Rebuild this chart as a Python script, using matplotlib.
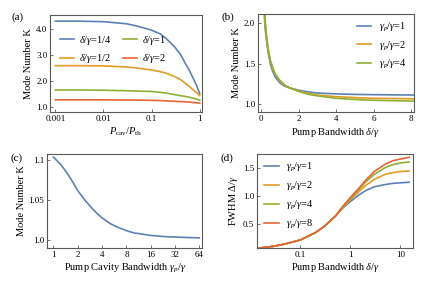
import numpy as np
import matplotlib
matplotlib.use("Agg")
import matplotlib.pyplot as plt
from matplotlib.ticker import FixedLocator, FixedFormatter, NullLocator

plt.rcParams['font.family'] = ['Liberation Serif', 'DejaVu Serif']
plt.rcParams['mathtext.fontset'] = 'custom'
plt.rcParams['mathtext.rm'] = 'Liberation Serif'
plt.rcParams['mathtext.it'] = 'Liberation Serif:italic'
plt.rcParams['font.size'] = 6.5

colors = ['#5E81B5', '#E19C24', '#8FB032', '#EB6235']

# (a) mode number vs pump power
a_x = [0.001, 0.003, 0.01, 0.03, 0.05, 0.1, 0.15, 0.2, 0.3, 0.4, 0.5, 0.6, 0.7, 0.85, 1.0]
a_labels = ['1/4', '1/2', '1', '2']
a_k = [
    [4.31, 4.31, 4.29, 4.21, 4.12, 3.96, 3.82, 3.64, 3.32, 3.02, 2.68, 2.43, 2.17, 1.85, 1.51],
    [2.59, 2.59, 2.58, 2.54, 2.50, 2.42, 2.36, 2.30, 2.17, 2.05, 1.91, 1.80, 1.68, 1.56, 1.43],
    [1.65, 1.65, 1.64, 1.62, 1.61, 1.59, 1.56, 1.53, 1.47, 1.43, 1.40, 1.37, 1.34, 1.30, 1.26],
    [1.27, 1.27, 1.27, 1.26, 1.26, 1.25, 1.24, 1.23, 1.21, 1.20, 1.19, 1.18, 1.17, 1.155, 1.14],
]

# (b) mode number vs pump bandwidth
b_x = [0.15, 0.2, 0.3, 0.4, 0.5, 0.6, 0.75, 1.0, 1.25, 1.5, 2.0, 2.5, 3.0, 4.0, 5.0, 6.0, 8.2]
b_labels = ['1', '2', '4']
b_k = [
    [2.15, 1.95, 1.74, 1.59, 1.48, 1.41, 1.33, 1.26, 1.22, 1.20, 1.17, 1.15, 1.135, 1.125, 1.118, 1.115, 1.11],
    [2.20, 2.00, 1.77, 1.62, 1.51, 1.44, 1.36, 1.28, 1.23, 1.20, 1.16, 1.13, 1.11, 1.09, 1.078, 1.07, 1.063],
    [2.25, 2.05, 1.80, 1.64, 1.53, 1.46, 1.37, 1.29, 1.235, 1.20, 1.155, 1.12, 1.10, 1.07, 1.055, 1.045, 1.035],
]

# (c) mode number vs pump cavity bandwidth
c_x = [1, 1.25, 1.5, 1.75, 2, 2.5, 3, 3.5, 4, 5, 6, 8, 10, 12, 16, 24, 32, 48, 64]
c_k = [1.104, 1.094, 1.083, 1.072, 1.062, 1.049, 1.040, 1.033, 1.028, 1.021, 1.017,
       1.012, 1.009, 1.008, 1.006, 1.0045, 1.004, 1.0033, 1.003]

# (d) FWHM vs pump bandwidth
d_x = [0.0142, 0.02, 0.03, 0.05, 0.1, 0.2, 0.3, 0.5, 0.7, 1.0, 1.5, 2.0, 3.0, 5.0, 7.0, 10.0, 15.0]
d_labels = ['1', '2', '4', '8']
d_common = [0.075, 0.09, 0.11, 0.15, 0.22, 0.35, 0.46, 0.64]
d_fwhm = [
    d_common + [0.78, 0.90, 1.02, 1.09, 1.16, 1.20, 1.22, 1.23, 1.24],
    d_common + [0.79, 0.93, 1.08, 1.18, 1.29, 1.38, 1.41, 1.43, 1.44],
    d_common + [0.80, 0.95, 1.12, 1.24, 1.38, 1.50, 1.55, 1.58, 1.60],
    d_common + [0.81, 0.97, 1.14, 1.27, 1.43, 1.56, 1.62, 1.65, 1.68],
]

fig = plt.figure(figsize=(4.25, 2.82), dpi=100)
ax_a = fig.add_axes([0.118, 0.603, 0.358, 0.344])
ax_b = fig.add_axes([0.607, 0.603, 0.367, 0.348])
ax_c = fig.add_axes([0.111, 0.121, 0.365, 0.333])
ax_d = fig.add_axes([0.605, 0.121, 0.367, 0.333])

for ax in (ax_a, ax_b, ax_c, ax_d):
    for s in ax.spines.values():
        s.set_color('0.35')
        s.set_linewidth(0.8)
    ax.tick_params(direction='in', length=2.5, width=0.6, color='0.35',
                   labelsize=6.5, pad=2, top=False, right=False)
    ax.tick_params(which='minor', length=0)

lw = 1.2
lab_fs = 7.5
leg_fs = 7.5

# (a)
for k, lab, c in zip(a_k, a_labels, colors):
    ax_a.plot(a_x, k, color=c, lw=lw, label=r'$\delta/\gamma$=' + lab)
ax_a.set_xscale('log')
ax_a.set_xlim(0.00078, 1.13)
ax_a.set_ylim(0.8, 4.55)
ax_a.xaxis.set_major_locator(FixedLocator([0.001, 0.01, 0.1, 1]))
ax_a.xaxis.set_major_formatter(FixedFormatter(['0.001', '0.01', '0.1', '1']))
ax_a.xaxis.set_minor_locator(NullLocator())
ax_a.set_yticks([1, 2, 3, 4])
ax_a.set_yticklabels(['1.0', '2.0', '3.0', '4.0'])
ax_a.set_xlabel(r'$P_{\rm cav}/P_{\rm th}$', fontsize=lab_fs, labelpad=2)
ax_a.set_ylabel('Mode Number K', fontsize=lab_fs, labelpad=2)
ax_a.legend(loc='upper left', bbox_to_anchor=(0.0, 0.9), ncol=2, frameon=False,
            fontsize=leg_fs, handlelength=1.4, columnspacing=1.0, labelspacing=0.5,
            handletextpad=0.5)

# (b)
for k, lab, c in zip(b_k, b_labels, colors):
    ax_b.plot(b_x, k, color=c, lw=lw, label=r'$\gamma_p/\gamma$=' + lab)
ax_b.set_xlim(-0.18, 8.16)
ax_b.set_ylim(0.9, 2.12)
ax_b.set_xticks([0, 2, 4, 6, 8])
ax_b.set_yticks([1.0, 1.5, 2.0])
ax_b.set_yticklabels(['1.0', '1.5', '2.0'])
ax_b.set_xlabel(r'Pump Bandwidth $\delta/\gamma$', fontsize=lab_fs, labelpad=2)
ax_b.set_ylabel('Mode Number K', fontsize=lab_fs, labelpad=2)
ax_b.legend(loc='upper right', frameon=False, fontsize=leg_fs, handlelength=1.4,
            labelspacing=0.5, handletextpad=0.7, borderaxespad=0.3)

# (c)
ax_c.plot(c_x, c_k, color=colors[0], lw=lw)
ax_c.set_xscale('log', base=2)
ax_c.set_xlim(0.835, 69.7)
ax_c.set_ylim(0.9904, 1.108)
ax_c.xaxis.set_major_locator(FixedLocator([1, 2, 4, 8, 16, 32, 64]))
ax_c.xaxis.set_major_formatter(FixedFormatter(['1', '2', '4', '8', '16', '32', '64']))
ax_c.xaxis.set_minor_locator(NullLocator())
ax_c.set_yticks([1.0, 1.05, 1.1])
ax_c.set_yticklabels(['1.0', '1.05', '1.1'])
ax_c.set_xlabel(r'Pump Cavity Bandwidth $\gamma_p/\gamma$', fontsize=lab_fs, labelpad=2)
ax_c.set_ylabel('Mode Number K', fontsize=lab_fs, labelpad=2)

# (d)
for f, lab, c in zip(d_fwhm, d_labels, colors):
    ax_d.plot(d_x, f, color=c, lw=lw, label=r'$\gamma_p/\gamma$=' + lab)
ax_d.set_xscale('log')
ax_d.set_xlim(0.0136, 18)
ax_d.set_ylim(0.08, 1.74)
ax_d.xaxis.set_major_locator(FixedLocator([0.1, 1, 10]))
ax_d.xaxis.set_major_formatter(FixedFormatter(['0.1', '1', '10']))
ax_d.xaxis.set_minor_locator(NullLocator())
ax_d.set_yticks([0.5, 1.0, 1.5])
ax_d.set_yticklabels(['0.5', '1.0', '1.5'])
ax_d.set_xlabel(r'Pump Bandwidth $\delta/\gamma$', fontsize=lab_fs, labelpad=2)
ax_d.set_ylabel(r'FWHM $\Delta/\gamma$', fontsize=lab_fs, labelpad=2)
ax_d.legend(loc='upper left', frameon=False, fontsize=leg_fs, handlelength=1.4,
            labelspacing=0.55, handletextpad=0.7, borderaxespad=0.3)

for lab, x, y in [('(a)', 0.028, 0.93), ('(b)', 0.522, 0.93),
                  ('(c)', 0.024, 0.43), ('(d)', 0.518, 0.43)]:
    fig.text(x, y, lab, fontsize=8)

fig.savefig('out.png', dpi=100)
